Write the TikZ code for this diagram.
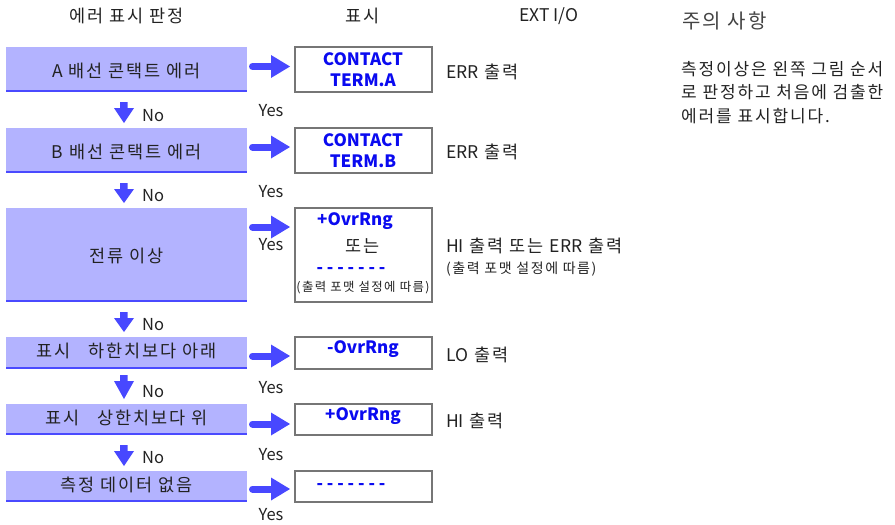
\documentclass[tikz,border=0pt]{standalone}
\usepackage{fontspec}
\setmainfont[LetterSpace=11]{Noto Sans CJK KR}
\newfontfamily\latfont{Noto Sans CJK KR}
\newcommand{\lat}[1]{{\latfont #1}}
\usetikzlibrary{arrows.meta}
\definecolor{boxfill}{HTML}{B3B3FF}
\definecolor{boxline}{HTML}{4A4AFF}
\definecolor{arrowc}{HTML}{4848FF}
\definecolor{txt}{HTML}{222222}
\definecolor{disp}{HTML}{0A0AF0}
\definecolor{dispframe}{HTML}{767676}
\tikzset{
  x=1pt,y=-1pt,
  every node/.style={text=txt,font=\fontsize{17.5}{20}\selectfont,inner sep=0pt},
  judgebox/.style={fill=boxfill},
  dispbox/.style={draw=dispframe,line width=1.6pt,fill=white},
  disptext/.style={text=disp,font=\fontsize{17}{19}\selectfont\latfont\bfseries},
  smallbox/.style={font=\fontsize{12.4}{14}\selectfont},
  smallio/.style={font=\fontsize{14}{16}\selectfont},
  yesno/.style={font=\fontsize{16.5}{18}\selectfont\latfont},
}
\newcommand{\judge}[5]{% name, top, bottom, text, text y
  \fill[judgebox] (6,#2) rectangle (247,#3);
  \draw[boxline,line width=2pt] (6,#3-1) -- (247,#3-1);
  \node (#1) at (126.5,#5) {#4};
}
\newcommand{\disp}[3]{% name, top, bottom
  \draw[dispbox] (295,#2) rectangle (432,#3);
  \coordinate (#1) at (363,{(#2+#3)/2});
}
\newcommand{\rarr}[1]{% y centre
  \draw[arrowc,line width=7pt,line cap=round] (252.5,#1) -- (272,#1);
  \fill[arrowc] (271,#1-11.5) -- (290,#1) -- (271,#1+11.5) -- cycle;
}
\newcommand{\darr}[2]{% top, bottom
  \fill[arrowc] (120,#1+3) -- (127.5,#1+3) -- (127.5,#1+9) -- (134,#1+9) -- (124,#2) -- (114,#1+9) -- (120,#1+9) -- cycle;
}
\begin{document}
\begin{tikzpicture}
\useasboundingbox (0,0) rectangle (895,525);
% headers
\node (h1) at (127,16) {에러 표시 판정};
\node (h2) at (363,16) {표시};
\node[font=\fontsize{17.5}{20}\selectfont\latfont] (h3) at (549,16) {EXT I/O};
\node[anchor=west,font=\fontsize{20}{22}\selectfont,text=txt!85] (h4) at (682,21) {주의 사항};
\node[anchor=north west,align=left,font=\fontsize{17}{23.5}\selectfont] (note) at (681,61) {측정이상은 왼쪽 그림 순서\\로 판정하고 처음에 검출한\\에러를 표시합니다.};

% judgement boxes
\judge{j1}{47}{92}{\lat{A} 배선 콘택트 에러}{71}
\judge{j2}{128}{173}{\lat{B} 배선 콘택트 에러}{152}
\judge{j3}{208}{302}{전류 이상}{256}
\judge{j4}{337}{369}{표시\hspace{1em}하한치보다 아래}{351}
\judge{j5}{404}{435}{표시\hspace{1em}상한치보다 위}{418}
\judge{j6}{471}{502}{측정 데이터 없음}{485}

% display boxes
\disp{d1}{47}{92}
\disp{d2}{128}{173}
\disp{d3}{208}{302}
\disp{d4}{337}{369}
\disp{d5}{404}{435}
\disp{d6}{471}{502}

\node[disptext] (t1a) at (363,59) {CONTACT};
\node[disptext] (t1b) at (363,80) {TERM.A};
\node[disptext] (t2a) at (363,140) {CONTACT};
\node[disptext] (t2b) at (363,161) {TERM.B};
\node[disptext] (t3a) at (355,221) {+OvrRng};
\node (t3b) at (363,246) {또는};
\node[disptext] (t3c) at (351,271) {- - - - - - -};
\node[smallbox] (t3d) at (363,288) {(출력 포맷 설정에 따름)};
\node[disptext] (t4) at (363,349) {-OvrRng};
\node[disptext] (t5) at (363,416) {+OvrRng};
\node[disptext] (t6) at (351,487) {- - - - - - -};

% EXT I/O
\node[anchor=west] (e1) at (446,72) {\lat{ERR} 출력};
\node[anchor=west] (e2) at (446,152) {\lat{ERR} 출력};
\node[anchor=west] (e3) at (446,246) {\lat{HI} 출력 또는 \lat{ERR} 출력};
\node[anchor=west,smallio] (e3b) at (446,269) {(출력 포맷 설정에 따름)};
\node[anchor=west] (e4) at (446,355) {\lat{LO} 출력};
\node[anchor=west] (e5) at (446,421) {\lat{HI} 출력};

% arrows
\rarr{66.5}\rarr{147}\rarr{227}\rarr{356}\rarr{424}\rarr{489}
\darr{99}{123}\darr{180}{203}\darr{309}{332}\darr{372}{399}\darr{442}{466}

% Yes / No
\foreach \y [count=\i] in {111,192,245,388,455,515} \node[yesno] (yes\i) at (271,\y) {Yes};
\foreach \y [count=\i] in {116,196,325,392,458} \node[yesno,anchor=west] (no\i) at (142,\y) {No};
\end{tikzpicture}
\end{document}
